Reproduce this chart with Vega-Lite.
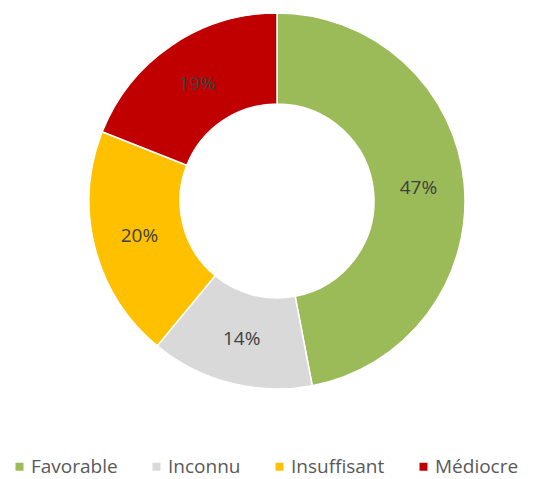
{
  "$schema": "https://vega.github.io/schema/vega-lite/v6.json",
  "width": 554,
  "height": 402,
  "padding": 0,
  "background": "white",
  "config": {"view": {"stroke": null}},
  "data": {"values": [
    {"category": "Favorable", "value": 47, "label": "47%"},
    {"category": "Inconnu", "value": 14, "label": "14%"},
    {"category": "Insuffisant", "value": 20, "label": "20%"},
    {"category": "Médiocre", "value": 19, "label": "19%"}
  ]},
  "encoding": {
    "theta": {"field": "value", "type": "quantitative", "stack": true},
    "order": {"field": "category", "sort": "ascending"},
    "color": {
      "field": "category",
      "type": "nominal",
      "scale": {"domain": ["Favorable", "Inconnu", "Insuffisant", "Médiocre"], "range": ["#9BBB59", "#D9D9D9", "#FFC000", "#C00000"]},
      "legend": {
        "title": null,
        "orient": "bottom",
        "direction": "horizontal",
        "offset": 45,
        "padding": 10,
        "symbolType": "square",
        "symbolSize": 64,
        "symbolStrokeWidth": 0,
        "labelFont": "Open Sans",
        "labelFontSize": 19,
        "labelColor": "#595959",
        "labelLimit": 300,
        "columnPadding": 29,
        "labelOffset": 2
      }
    }
  },
  "layer": [
    {"mark": {"type": "arc", "outerRadius": 188, "innerRadius": 97, "stroke": "white", "strokeWidth": 1.5}},
    {"mark": {"type": "text", "radius": 142, "font": "Open Sans", "fontSize": 19, "fill": "#404040"},
     "encoding": {"text": {"field": "label"}}}
  ]
}
